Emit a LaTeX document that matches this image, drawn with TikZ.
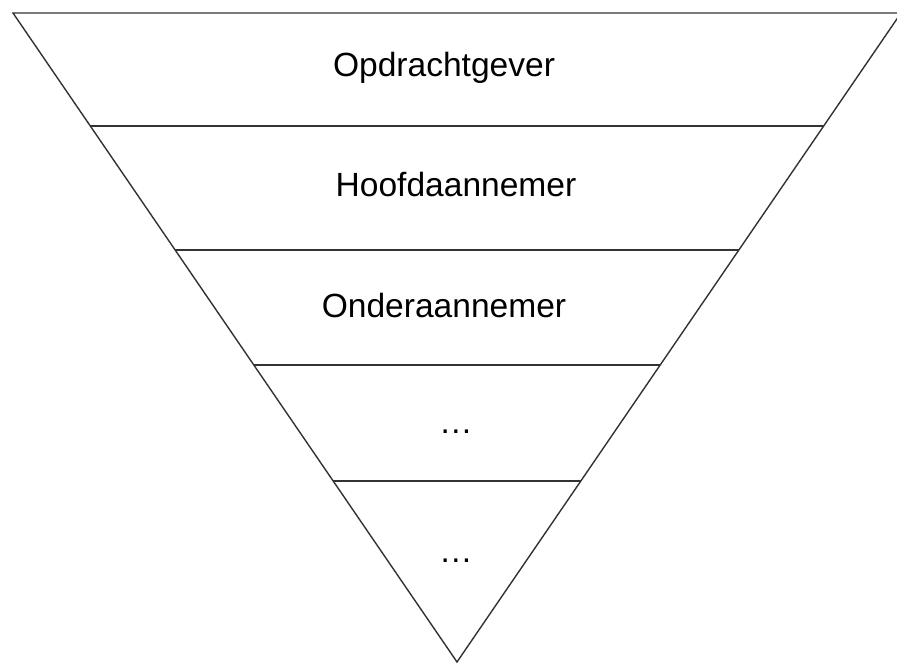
\documentclass[tikz,border=0pt]{standalone}
\usepackage{fontspec}
\setmainfont{Liberation Sans}
\usetikzlibrary{positioning,calc}

\tikzset{
	edge/.style={draw=black!80, line width=0.8pt},
	layer/.style={anchor=base, inner sep=0pt, font=\fontsize{19.1}{23}\selectfont}
}

\begin{document}
\begin{tikzpicture}[x=0.02cm,y=-0.02cm]
		\useasboundingbox (0,0) rectangle (897,665);

		% Corners of the funnel
		\coordinate (tl) at (13,13);
		\coordinate (tr) at (901,13);
		\coordinate (apex) at (457,662);

		\draw[edge] (tl) -- (tr) -- (apex) -- cycle;

		% Dividing lines
		\foreach \t/\name in {0.1741/a,0.3652/b,0.5424/c,0.7211/d} {
			\coordinate (l\name) at ($(tl)!\t!(apex)$);
			\coordinate (r\name) at ($(tr)!\t!(apex)$);
			\draw[edge] (l\name) -- (r\name);
		}

		% Layer 1
		\node[layer] (opdr) at (444,77) {Opdrachtgever};

		% Layer 2
		\node[layer] (hoofd) at (456,197) {Hoofdaannemer};

		% Layer 3
		\node[layer] (onder) at (444,318) {Onderaannemer};

		% Layer 4
		\node[layer] (dots1) at (456,434) {…};

		% Layer 5
		\node[layer] (dots2) at (456,563) {…};
	\end{tikzpicture}
\end{document}
